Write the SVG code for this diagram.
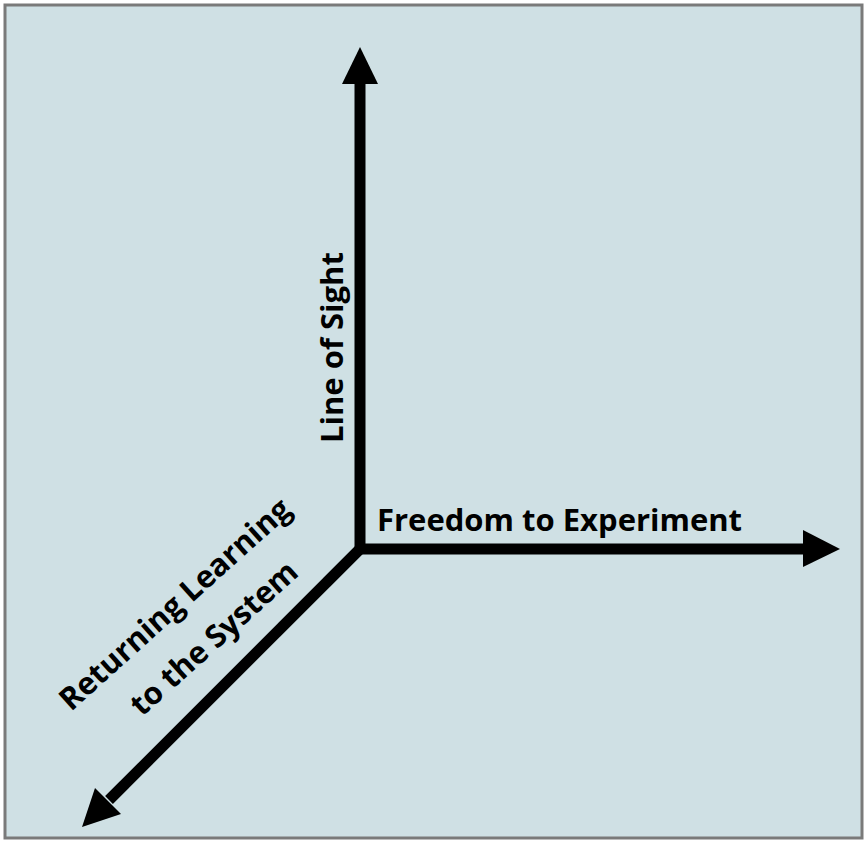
<svg xmlns="http://www.w3.org/2000/svg" width="864" height="841" viewBox="0 0 864 841">
<style>
.lbl{font-family:"Open Sans","Liberation Sans",sans-serif;font-weight:bold;font-size:31px;fill:#000}
.ax{stroke:#000;stroke-width:11;fill:none;stroke-linejoin:miter}
.hd{fill:#000}
</style>
<rect x="5" y="5" width="857" height="833" fill="#cfe0e4" stroke="#7a7a7a" stroke-width="3"/>
<g id="connectors">
<path class="ax" d="M360,84 L360,549 L804,549"/>
<path class="ax" d="M360,549 L109,800"/>
<polygon class="hd" points="360,47 342,84 378,84"/>
<polygon class="hd" points="840,549 803,530 803,567"/>
<polygon class="hd" points="82,827 121,814 95,788"/>
</g>
<g id="line-of-sight"><text class="lbl" transform="translate(343,443) rotate(-90)">Line of Sight</text></g>
<g id="freedom"><text class="lbl" x="377" y="531">Freedom to Experiment</text></g>
<g id="returning">
<text class="lbl" text-anchor="middle" transform="translate(182,612) rotate(-42)">Returning Learning</text>
<text class="lbl" text-anchor="middle" transform="translate(221,646) rotate(-42)">to the System</text>
</g>
</svg>
